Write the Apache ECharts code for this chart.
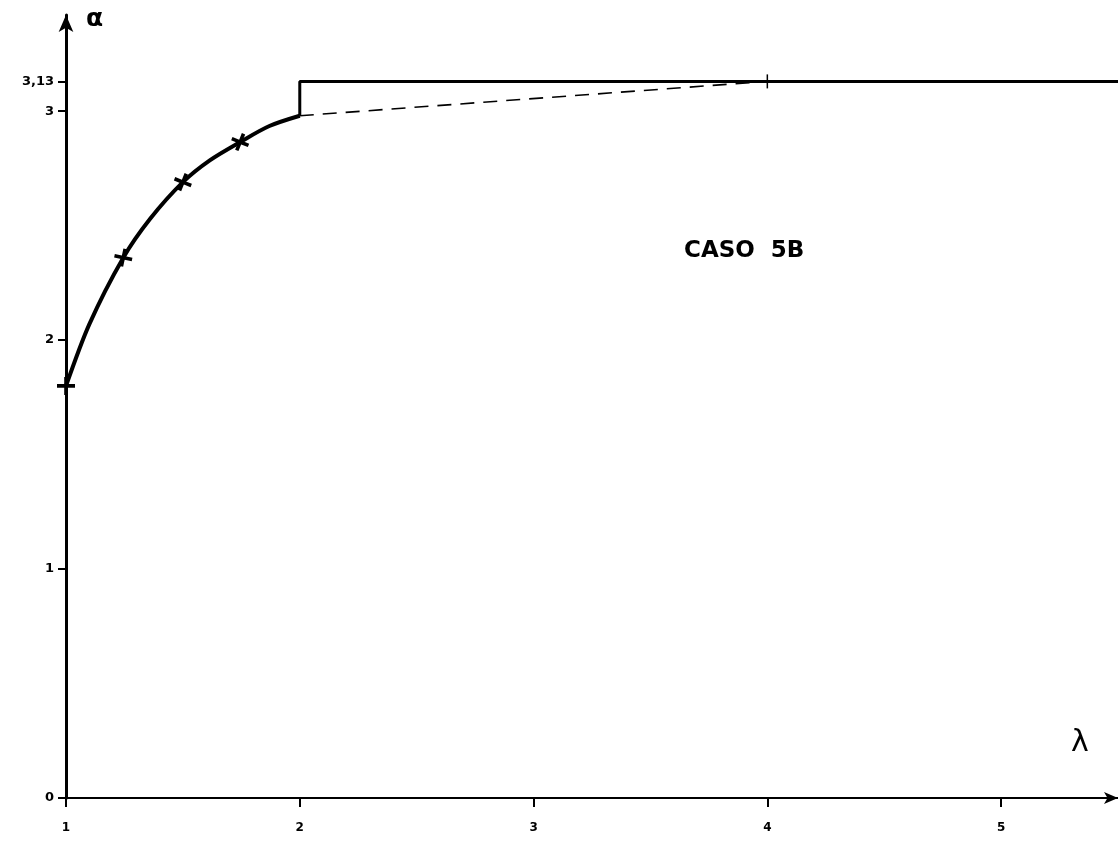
<!DOCTYPE html>
<html>
<head>
<meta charset="utf-8">
<script src="https://cdn.jsdelivr.net/npm/echarts@6/dist/echarts.min.js"></script>
<style>
  html, body { margin: 0; padding: 0; background: #fff; }
  #main { width: 1118px; height: 842px; }
</style>
</head>
<body>
<div id="main"></div>
<script>
// curve (lambda, alpha)
var curveX = [1, 1.1, 1.245, 1.36, 1.5, 1.615, 1.745, 1.87, 2];
var curveY = [1.8, 2.07, 2.36, 2.53, 2.69, 2.785, 2.865, 2.935, 2.98];
// the points marked with a cross
var markX = [1, 1.245, 1.5, 1.745];
var markY = [1.8, 2.36, 2.69, 2.865];
var markTilt = [0, -12, -22, -22];
// step line: jump at lambda = 2 up to 3.13, then flat
var stepX = [2, 2, 5.5];
var stepY = [2.98, 3.13, 3.13];
// thin dashed line
var dashX = [2, 4];
var dashY = [2.98, 3.13];
// tick labels
var xTicks = [1, 2, 3, 4, 5];
var yTicks = [0, 1, 2, 3, 3.13];

var crossPath = 'path://M4,0h2v4h4v2h-4v4h-2v-4h-4v-2h4z';

function pairs(xs, ys) {
    var out = [];
    for (var i = 0; i < xs.length; i++) out.push([xs[i], ys[i]]);
    return out;
}

var markData = [];
for (var i = 0; i < markX.length; i++) {
    markData.push({ value: [markX[i], markY[i]], symbolRotate: markTilt[i] });
}

var chart = echarts.init(document.getElementById('main'));
var font = 'DejaVu Sans';

chart.setOption({
    backgroundColor: '#fff',
    animation: false,
    grid: { left: 66, right: 0, top: 15, bottom: 44 },
    xAxis: {
        type: 'value',
        min: 1,
        max: 5.5,
        name: 'λ',
        nameLocation: 'end',
        nameGap: -38,
        nameTextStyle: {
            color: '#000', fontSize: 30, fontFamily: font,
            align: 'center', verticalAlign: 'bottom', padding: [0, 0, 40, 0]
        },
        axisLine: {
            lineStyle: { color: '#000', width: 2 },
            symbol: ['none', 'arrow'],
            symbolSize: [9, 14]
        },
        axisTick: { customValues: xTicks, length: 9, lineStyle: { color: '#000', width: 2 } },
        axisLabel: {
            customValues: xTicks, color: '#000', fontSize: 12, fontWeight: 'bold',
            fontFamily: font, margin: 24
        },
        splitLine: { show: false }
    },
    yAxis: {
        type: 'value',
        min: 0,
        max: 3.42,
        name: 'α',
        nameLocation: 'end',
        nameGap: -4,
        nameTextStyle: {
            color: '#000', fontSize: 25, fontWeight: 'bold', fontFamily: font,
            align: 'left', verticalAlign: 'middle', padding: [0, 0, 0, 20]
        },
        axisLine: {
            lineStyle: { color: '#000', width: 3 },
            symbol: ['none', 'arrow'],
            symbolSize: [11, 17]
        },
        axisTick: { customValues: yTicks, length: 8, lineStyle: { color: '#000', width: 2 } },
        axisLabel: {
            customValues: yTicks, color: '#000', fontSize: 13, fontWeight: 'bold',
            fontFamily: font, margin: 12,
            formatter: function (v) { return String(v).replace('.', ','); }
        },
        splitLine: { show: false }
    },
    series: [
        {
            type: 'line',
            data: pairs(curveX, curveY),
            smooth: 0.3,
            lineStyle: { color: '#000', width: 4 },
            symbol: 'none'
        },
        {
            type: 'scatter',
            data: markData,
            symbol: crossPath,
            symbolSize: 18,
            itemStyle: { color: '#000', opacity: 1 }
        },
        {
            type: 'line',
            data: pairs(stepX, stepY),
            lineStyle: { color: '#000', width: 3 },
            symbol: 'none'
        },
        {
            type: 'line',
            data: pairs(dashX, dashY),
            lineStyle: { color: '#000', width: 1.6, type: [14, 9] },
            symbol: 'none'
        },
        {
            type: 'scatter',
            data: [[dashX[1], dashY[1]]],
            symbol: 'rect',
            symbolSize: [1.5, 14],
            itemStyle: { color: '#000', opacity: 1 }
        }
    ],
    graphic: [{
        type: 'text',
        left: 684,
        top: 240,
        style: {
            text: 'CASO  5B',
            fill: '#000',
            font: 'bold 23px "DejaVu Sans"'
        }
    }]
});
</script>
</body>
</html>
